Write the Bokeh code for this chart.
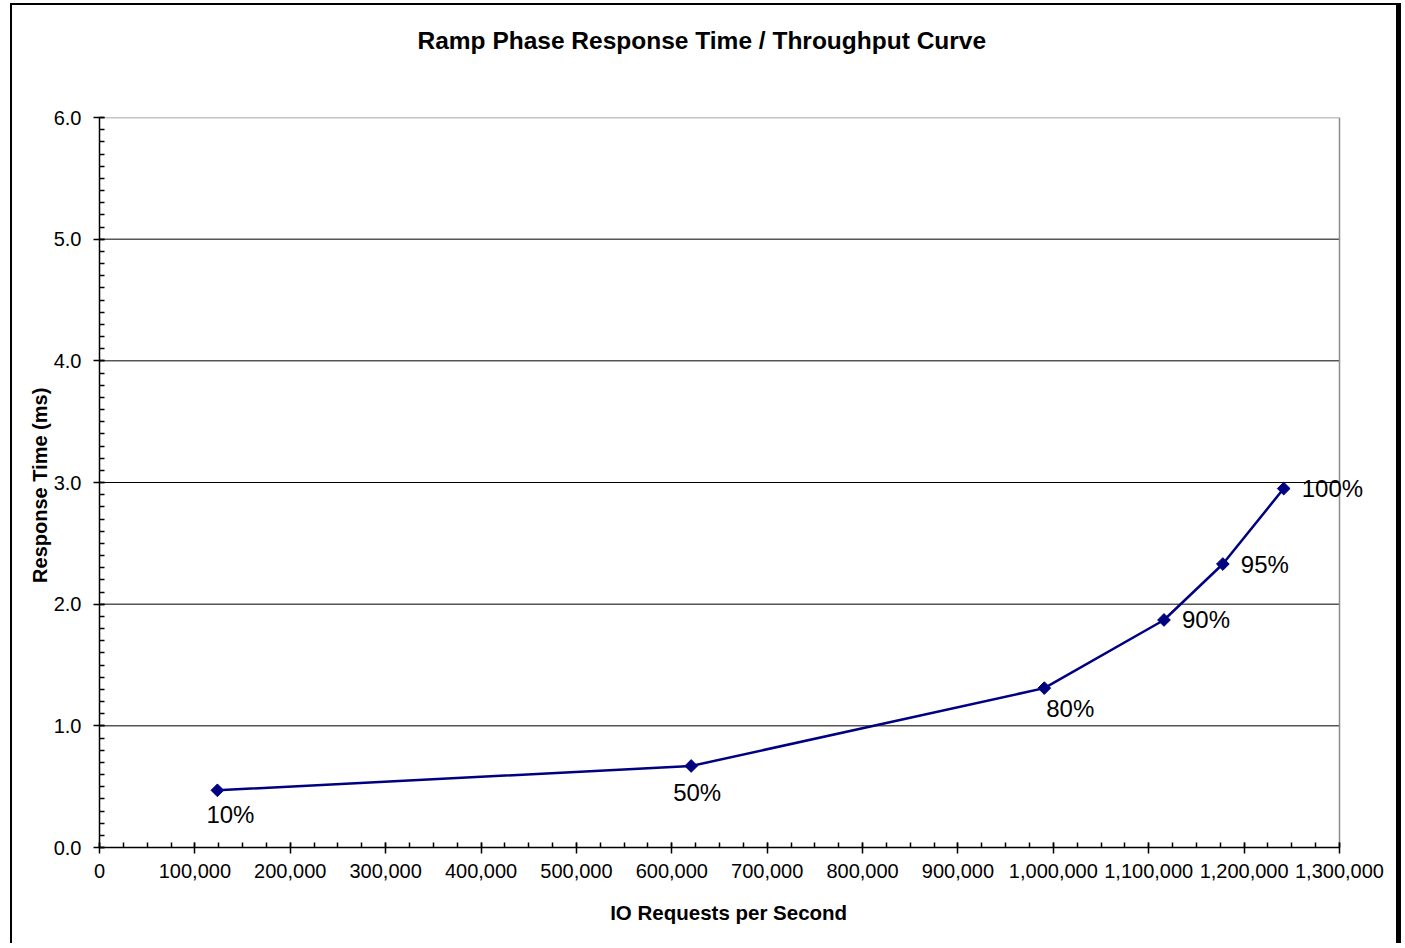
import math
from bokeh.plotting import figure
from bokeh.models import (ColumnDataSource, SingleIntervalTicker, NumeralTickFormatter,
                          Range1d, LabelSet, LinearAxis, FixedTicker)
from bokeh.core.properties import value
from bokeh.embed import file_html
from bokeh.resources import INLINE

# ---- data ----
iops = [123600, 620300, 990500, 1116000, 1177700, 1241500]
resp = [0.47, 0.67, 1.31, 1.87, 2.33, 2.95]
labels = ["10%", "50%", "80%", "90%", "95%", "100%"]
title_text = "Ramp Phase Response Time / Throughput Curve"
x_label = "IO Requests  per Second"
y_label = "Response  Time (ms)"
x_max = 1300000
y_max = 6
x_step = 100000
y_step = 1
grid_y = [1, 2, 3, 4, 5]

# ---- styles / layout (pixels) ----
below_idx = [0, 1, 2]
right_idx = [3, 4, 5]
below_dx = [13, 6, 26]
below_dy = [-11, -13, -7]
right_dx = [18, 18, 18]

FONT = "Liberation Sans"
NAVY = "#000080"
PLOT_W = 1240          # pixels for 0..x_max
FRAME_W = 1264         # frame reaches a little further right to hold the "100%" label
x_end = x_max * FRAME_W / PLOT_W

p = figure(frame_width=FRAME_W, frame_height=730,
           min_border_left=89, min_border_right=35, min_border_top=114, min_border_bottom=96,
           x_range=Range1d(0, x_end), y_range=Range1d(0, y_max),
           output_backend="svg", toolbar_location=None, title=title_text)
p.styles = {"margin-left": "10px", "margin-top": "3px", "background-color": "white",
            "box-shadow": "inset 2px 2px 0 black, inset -2px 0 0 black, 3px 0 0 black"}
p.border_fill_color = None
p.background_fill_color = None
p.outline_line_color = None
p.xgrid.visible = False
p.ygrid.visible = False

xax = p.below[0]
yax = p.left[0]

# plot-area box edges and gridlines
p.segment(x0=[0] * len(grid_y), y0=grid_y, x1=[x_max] * len(grid_y), y1=grid_y,
          line_color="black", line_width=1)
p.segment(x0=[0, x_max], y0=[y_max, 0], x1=[x_max, x_max], y1=[y_max, y_max],
          line_color="#8c8c8c", line_width=1.5)

xax.ticker = SingleIntervalTicker(interval=x_step, num_minor_ticks=4)
yax.ticker = SingleIntervalTicker(interval=y_step, num_minor_ticks=10)
xax.formatter = NumeralTickFormatter(format="0,0")
yax.formatter = NumeralTickFormatter(format="0.0")
xax.bounds = (0, x_max)
yax.bounds = (0, y_max)

for ax in (xax, yax):
    ax.axis_line_color = "black"
    ax.axis_line_width = 1.5
    ax.major_tick_line_color = "black"
    ax.major_tick_line_width = 1.5
    ax.minor_tick_line_color = "black"
    ax.minor_tick_line_width = 1.5
    ax.major_tick_in = 5
    ax.major_tick_out = 6
    ax.minor_tick_in = 5
    ax.minor_tick_out = 0
    ax.major_label_text_font = FONT
    ax.major_label_text_font_size = "20px"
    ax.major_label_text_color = "black"
    ax.axis_label_text_font = FONT
    ax.axis_label_text_font_style = "bold"
    ax.axis_label_text_color = "black"

xax.axis_label = x_label
yax.axis_label = y_label
xax.axis_label_text_font_size = "20.5px"
yax.axis_label_text_font_size = "20px"
xax.major_label_standoff = 10
yax.major_label_standoff = 12
xax.axis_label_standoff = 20
yax.axis_label_standoff = 0

# empty spacer between the plot area and the title
spacer = LinearAxis(ticker=FixedTicker(ticks=[]), axis_line_color=None,
                    major_tick_line_color=None, minor_tick_line_color=None,
                    major_tick_in=0, major_tick_out=0, minor_tick_in=0, minor_tick_out=0,
                    major_label_text_font_size="1px",
                    axis_label="\u00a0", axis_label_text_font_size="10px",
                    axis_label_standoff=50)
p.add_layout(spacer, "above")

p.title.align = "left"
p.title.offset = 318
p.title.standoff = 0
p.title.text_font = FONT
p.title.text_font_size = "24.5px"
p.title.text_font_style = "bold"
p.title.text_color = "black"

src = ColumnDataSource(dict(x=iops, y=resp, t=labels))
p.line("x", "y", source=src, line_color=NAVY, line_width=2.5)
p.scatter("x", "y", source=src, marker="square", angle=math.pi / 4, size=9,
          fill_color=NAVY, line_color=NAVY)

below = ColumnDataSource(dict(x=[iops[i] for i in below_idx], y=[resp[i] for i in below_idx],
                              t=[labels[i] for i in below_idx], dx=below_dx, dy=below_dy))
right = ColumnDataSource(dict(x=[iops[i] for i in right_idx], y=[resp[i] for i in right_idx],
                              t=[labels[i] for i in right_idx], dx=right_dx))
p.add_layout(LabelSet(x="x", y="y", text="t", source=below, x_offset="dx", y_offset="dy",
                      text_align="center", text_baseline="top", text_font=value(FONT),
                      text_font_size=value("24px"), text_color="black"))
p.add_layout(LabelSet(x="x", y="y", text="t", source=right, x_offset="dx",
                      text_align="left", text_baseline="middle", text_font=value(FONT),
                      text_font_size=value("24px"), text_color="black"))

open("out.html", "w").write(file_html(p, INLINE))
